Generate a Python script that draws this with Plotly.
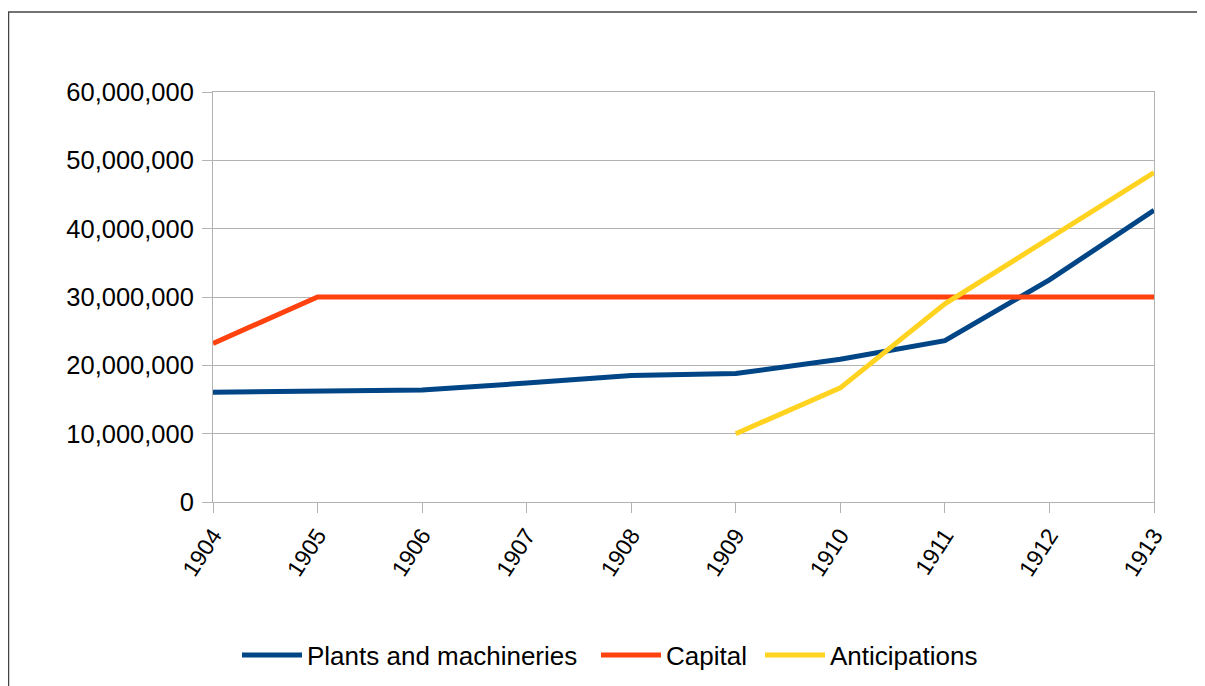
import plotly.graph_objects as go

years = [1904, 1905, 1906, 1907, 1908, 1909, 1910, 1911, 1912, 1913]
plants = [16.05e6, 16.2e6, 16.4e6, 17.4e6, 18.5e6, 18.8e6, 20.9e6, 23.6e6, 32.5e6, 42.7e6]
capital = [23.2e6, 30e6, 30e6, 30e6, 30e6, 30e6, 30e6, 30e6, 30e6, 30e6]
anticip = [None, None, None, None, None, 10.0e6, 16.7e6, 29.0e6, 38.6e6, 48.2e6]

series_names = ["Plants and machineries", "Capital", "Anticipations"]
colors = ["#004586", "#ff420e", "#ffd320"]
y_ticks = [0, 10e6, 20e6, 30e6, 40e6, 50e6, 60e6]
y_tick_text = ["0", "10,000,000", "20,000,000", "30,000,000", "40,000,000", "50,000,000", "60,000,000"]

# page has an 8px body margin; work in page (screen) pixels and convert
OFF = 8
W, H = 1205, 686
plot_left, plot_right, plot_top, plot_bottom = 213, 1154, 92, 502
L = plot_left - OFF
T = plot_top - OFF
R = W - (plot_right - OFF)
B = H - (plot_bottom - OFF)
pw, ph = W - L - R, H - T - B


def px(sx):
    return (sx - OFF - L) / pw


def py(sy):
    return (T + ph - (sy - OFF)) / ph


legend_x_screen = [237, 596, 760]
legend_keys = ["legend", "legend2", "legend3"]

fig = go.Figure()
for name, vals, col, lk in zip(series_names, [plants, capital, anticip], colors, legend_keys):
    fig.add_trace(go.Scatter(x=years, y=vals, name=name, mode="lines",
                             line=dict(color=col, width=5), connectgaps=False,
                             legend=lk))

font = dict(family="Liberation Sans, Arial, sans-serif", size=25.5, color="#000000")
xfont = dict(family="Liberation Sans, Arial, sans-serif", size=23, color="#000000")
lfont = dict(family="Liberation Sans, Arial, sans-serif", size=26, color="#000000")

legend_common = dict(orientation="h", xanchor="left", y=py(655), yanchor="middle",
                     font=lfont, itemwidth=60, bgcolor="rgba(0,0,0,0)", borderwidth=0)

fig.update_layout(
    width=W, height=H,
    margin=dict(l=L, r=R, t=T, b=B, pad=0),
    paper_bgcolor="white", plot_bgcolor="white",
    font=font,
    showlegend=True,
    legend=dict(x=px(legend_x_screen[0]), **legend_common),
    legend2=dict(x=px(legend_x_screen[1]), **legend_common),
    legend3=dict(x=px(legend_x_screen[2]), **legend_common),
    xaxis=dict(range=[1904, 1913], tickmode="array", tickvals=years,
               ticktext=[str(y) for y in years], tickangle=-57,
               showgrid=False, showline=True, linecolor="#b3b3b3", linewidth=1,
               mirror=True, ticks="outside", ticklen=10, tickcolor="#b3b3b3",
               zeroline=False, tickfont=xfont),
    yaxis=dict(range=[0, 60e6], tickmode="array", tickvals=y_ticks,
               ticktext=y_tick_text, showgrid=True, gridcolor="#b3b3b3",
               gridwidth=1, showline=True, linecolor="#b3b3b3", linewidth=1,
               mirror=True, ticks="outside", ticklen=10, tickcolor="#b3b3b3",
               zeroline=False, tickfont=font, ticklabelstandoff=3),
)

# outer frame (top and left edges)
fig.add_shape(type="line", xref="paper", yref="paper",
              x0=px(8), x1=px(W + OFF), y0=py(12), y1=py(12),
              line=dict(color="#444444", width=1.5))
fig.add_shape(type="line", xref="paper", yref="paper",
              x0=px(8.5), x1=px(8.5), y0=py(12), y1=py(H + OFF),
              line=dict(color="#444444", width=1.5))

fig.write_html("out.html")
